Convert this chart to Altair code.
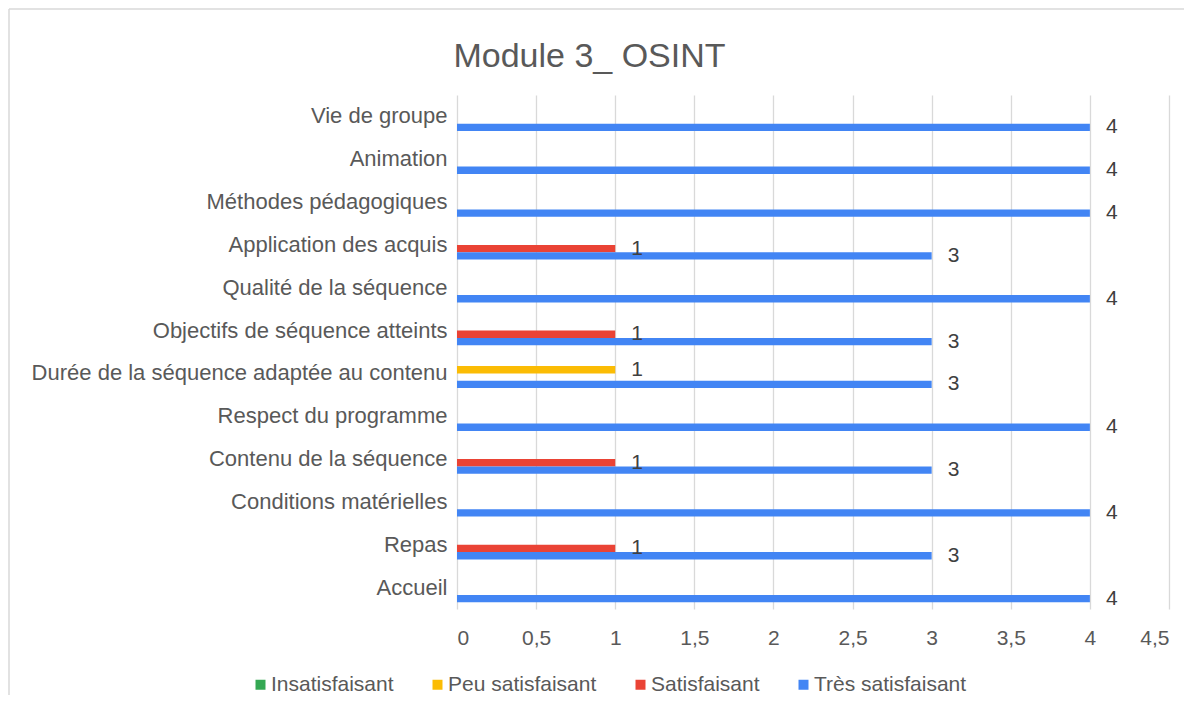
import altair as alt
import pandas as pd

# ---- data (top-to-bottom category order) ----
categories = [
    "Vie de groupe",
    "Animation",
    "Méthodes pédagogiques",
    "Application des acquis",
    "Qualité de la séquence",
    "Objectifs de séquence atteints",
    "Durée de la séquence adaptée au contenu",
    "Respect du programme",
    "Contenu de la séquence",
    "Conditions matérielles",
    "Repas",
    "Accueil",
]
series_names = ["Insatisfaisant", "Peu satisfaisant", "Satisfaisant", "Très satisfaisant"]
series_colors = ["#34A853", "#FBBC04", "#EA4335", "#4285F4"]
insatisfaisant = [0, 0, 0, 0, 0, 0, 0, 0, 0, 0, 0, 0]
peu_satisfaisant = [0, 0, 0, 0, 0, 0, 1, 0, 0, 0, 0, 0]
satisfaisant = [0, 0, 0, 1, 0, 1, 0, 0, 1, 0, 1, 0]
tres_satisfaisant = [4, 4, 4, 3, 4, 3, 3, 4, 3, 4, 3, 4]
x_ticks = [0, 0.5, 1, 1.5, 2, 2.5, 3, 3.5, 4, 4.5]
title_text = "Module 3_ OSINT"

rows = []
for name, vals in zip(series_names, [insatisfaisant, peu_satisfaisant, satisfaisant, tres_satisfaisant]):
    for cat, v in zip(categories, vals):
        rows.append({"categorie": cat, "serie": name, "valeur": v})
df = pd.DataFrame(rows)
df = df[df["valeur"] > 0]

FONT = "Liberation Sans"
GRAY = "#595959"

y_enc = alt.Y(
    "categorie:N",
    sort=categories,
    scale=alt.Scale(paddingInner=0.316, paddingOuter=0.158),
    axis=alt.Axis(
        title=None, domain=False, ticks=False, grid=False,
        labelFontSize=22, labelColor=GRAY, labelFont=FONT,
        labelPadding=10, labelLimit=600,
    ),
)
yoff_enc = alt.YOffset("serie:N", sort=series_names, scale=alt.Scale(domain=series_names, paddingInner=0, paddingOuter=0))
x_enc = alt.X(
    "valeur:Q",
    scale=alt.Scale(domain=[0, 4.5], nice=False),
    axis=alt.Axis(
        title=None, values=x_ticks, format=".1~f",
        labelExpr="replace(datum.label, '.', ',')",
        grid=True, gridColor="#d9d9d9", gridWidth=1.3,
        domain=False, ticks=False,
        labelFontSize=21, labelColor=GRAY, labelFont=FONT, labelPadding=18,
    ),
)

base = alt.Chart(df)

bars = base.mark_bar(cornerRadius=0).encode(
    y=y_enc,
    yOffset=yoff_enc,
    x=x_enc,
    color=alt.Color(
        "serie:N",
        scale=alt.Scale(domain=series_names, range=series_colors),
        legend=alt.Legend(
            title=None, orient="none", direction="horizontal",
            legendX=-207, legendY=579,
            symbolType="square", symbolSize=100, symbolStrokeWidth=0,
            labelFontSize=21, labelColor=GRAY, labelFont=FONT,
            labelOffset=0, columnPadding=33, padding=0,
        ),
    ),
)

labels = base.mark_text(
    align="left", baseline="middle", dx=16, fontSize=21, color="#404040", font=FONT
).encode(
    y=alt.Y("categorie:N", sort=categories),
    yOffset=alt.YOffset("serie:N", sort=series_names),
    x=alt.X("valeur:Q"),
    text=alt.Text("valeur:Q"),
)

title_df = pd.DataFrame({"t": [title_text]})
title = alt.Chart(title_df).mark_text(
    align="center", baseline="middle", fontSize=34, color=GRAY, font=FONT
).encode(
    text="t:N",
    x=alt.value(132.5),
    y=alt.value(-38.5),
)

frame_df = pd.DataFrame({"b": [1]})
border_top = alt.Chart(frame_df).mark_rule(color="#d9d9d9", strokeWidth=1.5).encode(
    x=alt.value(-448),
    x2=alt.value(900),
    y=alt.value(-86),
)
border_left = alt.Chart(frame_df).mark_rule(color="#d9d9d9", strokeWidth=1.5).encode(
    x=alt.value(-448),
    y=alt.value(-86),
    y2=alt.value(800),
)

chart = (
    alt.layer(border_top, border_left, bars, labels, title)
    .properties(
        width=712,
        height=514,
        autosize=alt.AutoSizeParams(type="none"),
        padding={"left": 449, "top": 87, "right": 15, "bottom": 86},
    )
    .configure_view(stroke=None)
)

chart.save("out.html", embed_options={"renderer": "svg", "actions": False})
